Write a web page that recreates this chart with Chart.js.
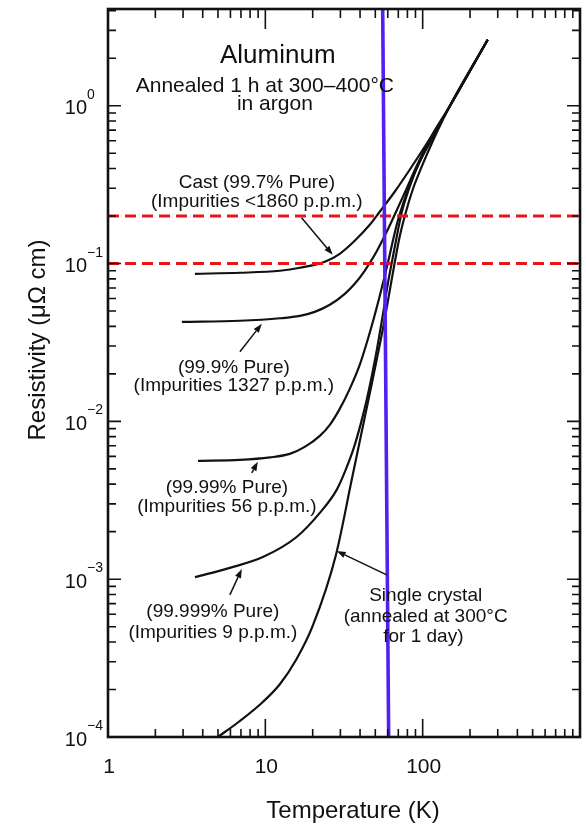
<!DOCTYPE html>
<html>
<head>
<meta charset="utf-8">
<script src="https://cdn.jsdelivr.net/npm/chart.js@4/dist/chart.umd.min.js"></script>
<style>
  html, body { margin: 0; padding: 0; background: #fff; }
  canvas { display: block; }
</style>
</head>
<body>
<canvas id="chart" width="586" height="825"></canvas>
<script>
// Resistivity of aluminium (µΩ·cm) against temperature (K), one pair of arrays per sample
const castT   = [3.57, 6.89, 12.4, 16.6, 23.9, 29.7, 37.0, 46.1, 53.3, 66.4, 82.7, 111, 148, 259];
const castRho = [0.0861, 0.0874, 0.0900, 0.0940, 0.1026, 0.1153, 0.1394, 0.1760, 0.2128, 0.2850, 0.3929, 0.6177, 0.9855, 2.62];

const pure3T   = [2.95, 6.89, 12.4, 16.6, 20.6, 25.7, 32.0, 37.0, 42.8, 49.6, 57.4, 66.4, 76.9, 93.0, 112.4, 148, 259];
const pure3Rho = [0.0427, 0.0434, 0.0450, 0.0466, 0.0494, 0.0548, 0.0643, 0.0744, 0.0900, 0.1136, 0.1500, 0.2037, 0.2809, 0.4289, 0.6268, 0.9855, 2.62];

const pure4T   = [3.73, 6.89, 10.7, 14.3, 17.8, 22.2, 25.7, 29.7, 34.4, 39.8, 46.1, 52.6, 59.9, 68.4, 74.6, 85.2, 98.6, 114, 148, 259];
const pure4Rho = [0.00562, 0.00570, 0.00591, 0.00622, 0.00689, 0.00809, 0.00950, 0.0120, 0.01607, 0.0228, 0.0364, 0.0589, 0.0996, 0.1760, 0.2357, 0.3396, 0.4681, 0.6268, 0.9855, 2.62];

const pure5T   = [3.57, 5.95, 9.64, 15.8, 22.2, 28.4, 32.4, 36.5, 40.4, 44.1, 48.1, 51.8, 55.7, 59.9, 63.6, 68.4, 73.5, 81.5, 93.0, 116, 148, 259];
const pure5Rho = [0.00103, 0.00118, 0.00138, 0.00185, 0.00263, 0.00368, 0.00493, 0.00679, 0.00964, 0.01369, 0.0206, 0.0305, 0.0466, 0.0733, 0.1011, 0.1478, 0.210, 0.2935, 0.4167, 0.6268, 0.9855, 2.62];

const crystalT   = [4.99, 6.89, 9.64, 12.4, 15.8, 20.0, 28.0, 35.4, 44.8, 55.7, 60.8, 66.4, 71.4, 78.0, 86.4, 98.6, 117, 148, 259];
const crystalRho = [1.0e-4, 1.263e-4, 1.667e-4, 2.168e-4, 3.123e-4, 5.055e-4, 1.404e-3, 4.26e-3, 0.01311, 0.0380, 0.0616, 0.1011, 0.1478, 0.210, 0.2935, 0.4107, 0.609, 0.9855, 2.62];

// Horizontal reference levels (µΩ·cm) and the slanted temperature marker (K)
const refLevels = [0.2, 0.1];
const markerT   = [55.7, 60.8];

// Axis ranges and labelled ticks
const xRange = [1, 1000];
const yRange = [1e-4, 4.1];
const xTickLabels = [1, 10, 100];
const yTickExponents = [0, -1, -2, -3, -4];

const FONT = '"Liberation Sans", Arial, Helvetica, sans-serif';

function pairs(xs, ys) { return xs.map((x, i) => ({ x, y: ys[i] })); }

// Text notes and pointer arrows, placed in data coordinates
const notes = [
  { text: 'Aluminum', T: 12.0, rho: 1.87, size: 26 },
  { text: 'Annealed 1 h at 300\u2013400\u00B0C', T: 9.93, rho: 1.23, size: 21 },
  { text: 'in argon', T: 11.5, rho: 0.943, size: 21 },
  { text: 'Cast (99.7% Pure)', T: 8.83, rho: 0.302, size: 19 },
  { text: '(Impurities <1860 p.p.m.)', T: 8.83, rho: 0.229, size: 19 },
  { text: '(99.9% Pure)', T: 6.31, rho: 0.0203, size: 19 },
  { text: '(Impurities 1327 p.p.m.)', T: 6.31, rho: 0.0156, size: 19 },
  { text: '(99.99% Pure)', T: 5.70, rho: 0.00352, size: 19 },
  { text: '(Impurities 56 p.p.m.)', T: 5.70, rho: 0.00267, size: 19 },
  { text: '(99.999% Pure)', T: 4.64, rho: 5.76e-4, size: 19 },
  { text: '(Impurities 9 p.p.m.)', T: 4.64, rho: 4.24e-4, size: 19 },
  { text: 'Single crystal', T: 104.5, rho: 7.28e-4, size: 19 },
  { text: '(annealed at 300\u00B0C', T: 104.5, rho: 5.36e-4, size: 19 },
  { text: 'for 1 day)', T: 101, rho: 4.0e-4, size: 19 }
];
const arrows = [
  { from: [17.0, 0.195],    to: [26.8, 0.1136] },
  { from: [6.89, 0.0276],   to: [9.50, 0.0415] },
  { from: [8.21, 0.00472],  to: [8.96, 0.00555] },
  { from: [5.95, 7.95e-4],  to: [7.09, 1.16e-3] },
  { from: [59.1, 1.064e-3], to: [28.4, 1.51e-3] }
];

function logTicks(min, max) {
  const out = [];
  for (let e = Math.floor(Math.log10(min)); e <= Math.ceil(Math.log10(max)); e++) {
    for (let m = 1; m < 10; m++) {
      const v = m * Math.pow(10, e);
      if (v >= min * 0.999 && v <= max * 1.001) out.push({ v, major: m === 1 });
    }
  }
  return out;
}

const frame = {
  id: 'frame',
  afterDatasetsDraw(chart) {
    const { ctx, chartArea: a, scales: { x: xs, y: ys } } = chart;
    ctx.save();
    ctx.strokeStyle = '#111';
    ctx.fillStyle = '#111';

    // inward tick marks on all four sides
    ctx.lineWidth = 1.6;
    ctx.beginPath();
    logTicks(xRange[0], xRange[1]).forEach(t => {
      const px = xs.getPixelForValue(t.v);
      if (px <= a.left + 1 || px >= a.right - 1) return;
      const len = t.major ? 18 : 8;
      ctx.moveTo(px, a.bottom); ctx.lineTo(px, a.bottom - len);
      ctx.moveTo(px, a.top); ctx.lineTo(px, a.top + (t.major ? 20 : 9));
    });
    logTicks(yRange[0], yRange[1]).forEach(t => {
      const py = ys.getPixelForValue(t.v);
      if (py >= a.bottom - 1 || py <= a.top + 1) return;
      const len = t.major ? 13 : 8;
      ctx.moveTo(a.left, py); ctx.lineTo(a.left + len, py);
      ctx.moveTo(a.right, py); ctx.lineTo(a.right - len, py);
    });
    ctx.stroke();

    // plot frame
    ctx.lineWidth = 2.6;
    ctx.strokeRect(a.left, a.top, a.right - a.left, a.bottom - a.top);

    // x tick labels
    ctx.font = '21px ' + FONT;
    ctx.textAlign = 'center';
    ctx.textBaseline = 'alphabetic';
    xTickLabels.forEach(v => ctx.fillText(String(v), xs.getPixelForValue(v) + 1, a.bottom + 36));

    // y tick labels as powers of ten
    yTickExponents.forEach(e => {
      const py = ys.getPixelForValue(Math.pow(10, e));
      ctx.font = '20px ' + FONT;
      ctx.textAlign = 'right';
      ctx.textBaseline = 'middle';
      ctx.fillText('10', a.left - 21, py + 3);
      ctx.font = '14px ' + FONT;
      ctx.textAlign = 'left';
      ctx.textBaseline = 'alphabetic';
      ctx.fillText(e < 0 ? '\u2212' + Math.abs(e) : String(e), a.left - 21, py - 7);
    });

    // axis titles
    ctx.font = '24px ' + FONT;
    ctx.textAlign = 'center';
    ctx.textBaseline = 'alphabetic';
    ctx.fillText('Temperature (K)', (a.left + a.right) / 2 + 9, a.bottom + 81);
    ctx.save();
    ctx.translate(45, (a.top + a.bottom) / 2 - 33);
    ctx.rotate(-Math.PI / 2);
    ctx.fillText('Resistivity (\u03BC\u03A9 cm)', 0, 0);
    ctx.restore();

    // notes
    notes.forEach(n => {
      ctx.font = n.size + 'px ' + FONT;
      ctx.textAlign = 'center';
      ctx.fillText(n.text, xs.getPixelForValue(n.T), ys.getPixelForValue(n.rho));
    });

    // pointer arrows
    ctx.lineWidth = 1.5;
    arrows.forEach(ar => {
      const x0 = xs.getPixelForValue(ar.from[0]), y0 = ys.getPixelForValue(ar.from[1]);
      const x1 = xs.getPixelForValue(ar.to[0]), y1 = ys.getPixelForValue(ar.to[1]);
      const ang = Math.atan2(y1 - y0, x1 - x0);
      const hl = 9, hw = 3.2;
      const bx = x1 - hl * Math.cos(ang), by = y1 - hl * Math.sin(ang);
      ctx.beginPath();
      ctx.moveTo(x0, y0); ctx.lineTo(bx, by);
      ctx.stroke();
      ctx.beginPath();
      ctx.moveTo(x1, y1);
      ctx.lineTo(bx + hw * Math.sin(ang), by - hw * Math.cos(ang));
      ctx.lineTo(bx - hw * Math.sin(ang), by + hw * Math.cos(ang));
      ctx.closePath();
      ctx.fill();
    });
    ctx.restore();
  }
};

const curveStyle = {
  borderColor: '#111',
  borderWidth: 2.2,
  pointRadius: 0,
  fill: false,
  cubicInterpolationMode: 'monotone'
};

const datasets = [
  // blue temperature marker
  { data: pairs(markerT, [yRange[1], yRange[0]]), borderColor: '#5221f2', borderWidth: 3.6, pointRadius: 0, fill: false },
  // red reference levels
  ...refLevels.map(r => ({
    data: pairs(xRange, [r, r]), borderColor: '#e8161b', borderWidth: 3, borderDash: [11, 6],
    pointRadius: 0, fill: false
  })),
  { ...curveStyle, data: pairs(castT, castRho) },
  { ...curveStyle, data: pairs(pure3T, pure3Rho) },
  { ...curveStyle, data: pairs(pure4T, pure4Rho) },
  { ...curveStyle, data: pairs(pure5T, pure5Rho) },
  { ...curveStyle, data: pairs(crystalT, crystalRho) }
];

new Chart(document.getElementById('chart'), {
  type: 'line',
  data: { datasets },
  options: {
    responsive: false,
    devicePixelRatio: 1,
    animation: false,
    layout: { padding: { left: 108, right: 6, top: 9, bottom: 88 } },
    plugins: { legend: { display: false }, tooltip: { enabled: false } },
    scales: {
      x: { type: 'logarithmic', min: xRange[0], max: xRange[1], display: false },
      y: { type: 'logarithmic', min: yRange[0], max: yRange[1], display: false }
    }
  },
  plugins: [frame]
});
</script>
</body>
</html>
